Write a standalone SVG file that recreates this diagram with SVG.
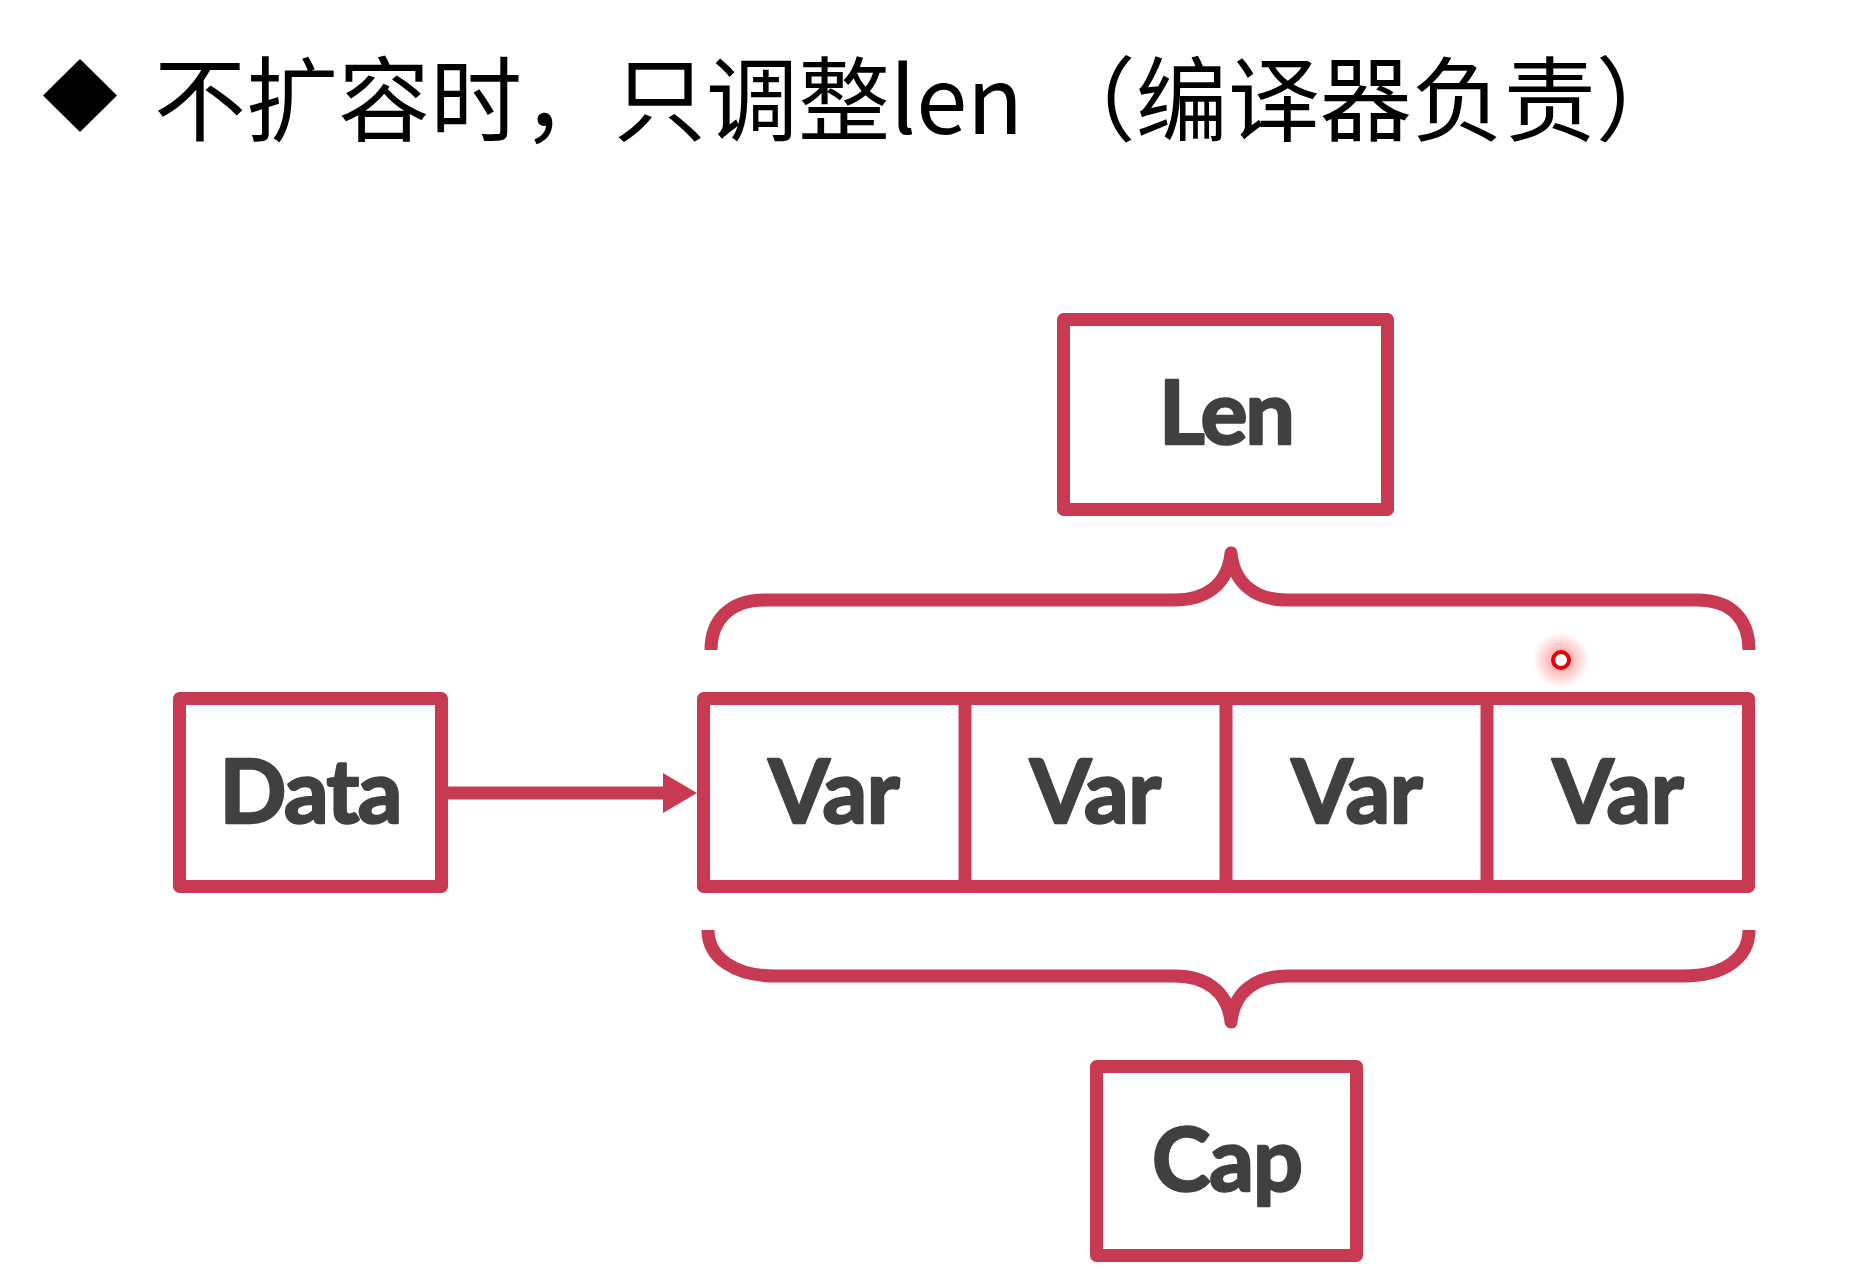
<svg xmlns="http://www.w3.org/2000/svg" width="1854" height="1282" viewBox="0 0 1854 1282">
  <defs>
    <style>
      .box { fill: #FFFFFF; stroke: #C83A52; stroke-width: 13; stroke-linejoin: round; }
      .line { fill: none; stroke: #C83A52; stroke-width: 13; }
      .brace { fill: none; stroke: #C83A52; stroke-width: 13; stroke-linejoin: round; stroke-linecap: butt; }
      .lbl { font-family: Lato, "Liberation Sans", sans-serif; font-weight: 700; font-size: 88px; fill: #404040; stroke: #404040; stroke-width: 2.5; stroke-linejoin: round; text-anchor: middle; }
      .title { font-family: "Noto Sans CJK SC", "Noto Sans", sans-serif; font-size: 92px; fill: #000000; }
    </style>
    <marker id="arrow" viewBox="0 0 34 40" refX="7" refY="20" markerWidth="34" markerHeight="40" markerUnits="userSpaceOnUse" orient="auto">
      <path d="M0,0 L34,20 L0,40 Z" fill="#C83A52"/>
    </marker>
    <radialGradient id="glow">
      <stop offset="0" stop-color="#FF3030" stop-opacity="0.55"/>
      <stop offset="1" stop-color="#FF3030" stop-opacity="0"/>
    </radialGradient>
  </defs>
  <rect x="0" y="0" width="1854" height="1282" fill="#FFFFFF"/>

  <g id="title">
    <polygon points="43,95.5 80,59 117,95.5 80,132" fill="#000000"/>
    <text class="title" x="154" y="134">不扩容时，只调整len （编译器负责）</text>
  </g>

  <g id="connectors">
    <line class="line" x1="448" y1="793" x2="670" y2="793" marker-end="url(#arrow)"/>
    <path class="brace" d="M711,650 C711,620 730,600 765,600 L1175,600 C1205,600 1228,585 1231,553 C1234,585 1257,600 1287,600 L1697,600 C1732,600 1749,620 1749,650"/>
    <path class="brace" d="M708,930 C708,958 735,976 775,976 L1175,976 C1205,976 1228,991 1231,1022 C1234,991 1257,976 1287,976 L1684,976 C1724,976 1749,958 1749,930"/>
  </g>

  <g id="len">
    <rect class="box" x="1063.5" y="319.5" width="324" height="190"/>
    <text class="lbl" x="1227" y="444" textLength="136" lengthAdjust="spacing">Len</text>
  </g>

  <g id="data">
    <rect class="box" x="179.5" y="698.5" width="262" height="188"/>
    <text class="lbl" x="311" y="823" textLength="183" lengthAdjust="spacing">Data</text>
  </g>

  <g id="array">
    <rect class="box" x="703.5" y="698.5" width="1045" height="188"/>
    <line class="line" x1="965" y1="698.5" x2="965" y2="886.5"/>
    <line class="line" x1="1226" y1="698.5" x2="1226" y2="886.5"/>
    <line class="line" x1="1487" y1="698.5" x2="1487" y2="886.5"/>
    <text class="lbl" x="834" y="823" textLength="131" lengthAdjust="spacing">Var</text>
    <text class="lbl" x="1095.5" y="823" textLength="131" lengthAdjust="spacing">Var</text>
    <text class="lbl" x="1357" y="823" textLength="131" lengthAdjust="spacing">Var</text>
    <text class="lbl" x="1618" y="823" textLength="131" lengthAdjust="spacing">Var</text>
  </g>

  <g id="cap">
    <rect class="box" x="1096.5" y="1066.5" width="260" height="189"/>
    <text class="lbl" x="1227.5" y="1191" textLength="151" lengthAdjust="spacing">Cap</text>
  </g>

  <g id="pointer">
    <circle cx="1561" cy="660" r="28" fill="url(#glow)"/>
    <circle cx="1561" cy="660" r="8" fill="#FFFFFF" stroke="#E8000B" stroke-width="4"/>
  </g>
</svg>
